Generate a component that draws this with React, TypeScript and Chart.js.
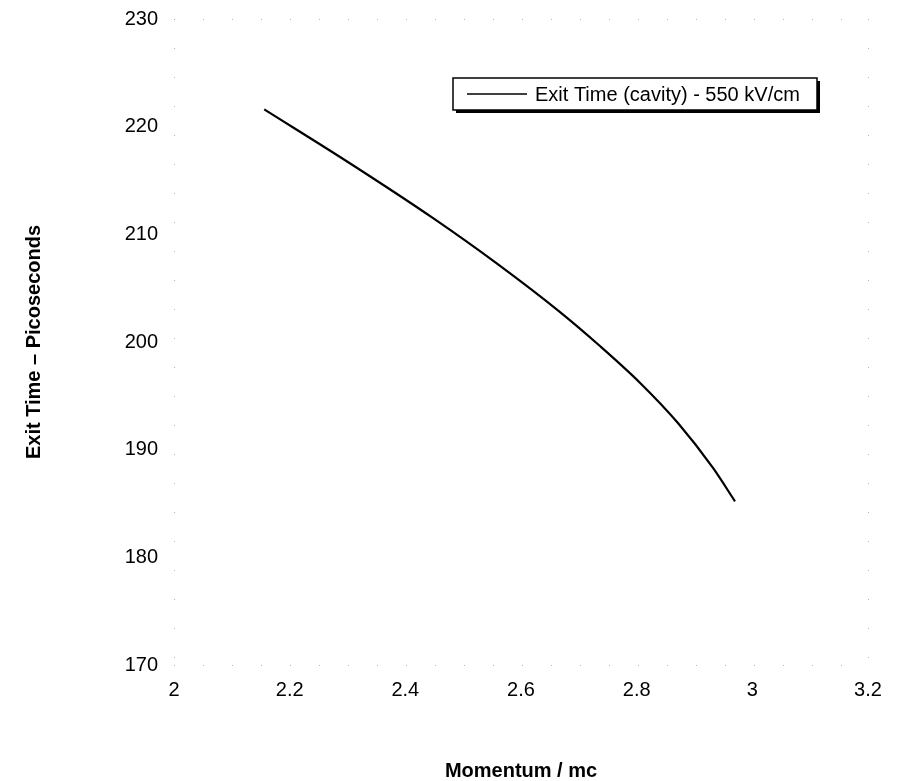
import React, { useEffect, useRef } from "react";
import { Chart, registerables } from "chart.js";

Chart.register(...registerables);

const momentum = [2.156, 2.304, 2.448, 2.558, 2.667, 2.736, 2.806, 2.871, 2.932, 2.970];
const exitTime = [221.6, 216.6, 211.5, 207.3, 202.8, 199.65, 196.2, 192.5, 188.3, 185.2];
const seriesLabel = "Exit Time (cavity) - 550 kV/cm";
const xTitle = "Momentum / mc";
const yTitle = "Exit Time \u2013 Picoseconds";
const xTicks = [2, 2.2, 2.4, 2.6, 2.8, 3, 3.2];
const yTicks = [170, 180, 190, 200, 210, 220, 230];

const FONT = "'Liberation Sans', Arial, Helvetica, sans-serif";

const boxLegend = {
  id: "boxLegend",
  afterDraw(chart: any) {
    const ctx = chart.ctx;
    const area = chart.chartArea;
    const x = area.left + 279;
    const y = area.top + 59;
    const w = 364;
    const h = 32;
    ctx.save();
    ctx.fillStyle = "#000";
    ctx.fillRect(x + 3, y + 3, w, h);
    ctx.fillStyle = "#fff";
    ctx.fillRect(x, y, w, h);
    ctx.strokeStyle = "#000";
    ctx.lineWidth = 1.5;
    ctx.strokeRect(x, y, w, h);
    ctx.beginPath();
    ctx.lineWidth = 1.5;
    ctx.moveTo(x + 14, y + h / 2);
    ctx.lineTo(x + 74, y + h / 2);
    ctx.stroke();
    ctx.fillStyle = "#000";
    ctx.font = "20px " + FONT;
    ctx.textBaseline = "middle";
    ctx.textAlign = "left";
    ctx.fillText(chart.data.datasets[0].label, x + 82, y + h / 2 + 1);
    ctx.restore();
  },
};

export default function App() {
  const ref = useRef<HTMLCanvasElement | null>(null);
  useEffect(() => {
    if (!ref.current) return;
    const edgeGrid = (c: any) => {
      const n = c.scale.ticks.length;
      return c.index === 0 || c.index === n - 1 ? "rgba(150,150,150,0.7)" : "rgba(0,0,0,0)";
    };
    const chart = new Chart(ref.current, {
      type: "line",
      data: {
        datasets: [
          {
            label: seriesLabel,
            data: momentum.map((m, i) => ({ x: m, y: exitTime[i] })),
            borderColor: "#000",
            borderWidth: 2.2,
            pointRadius: 0,
            fill: false,
            cubicInterpolationMode: "monotone",
          },
        ],
      },
      options: {
        animation: false,
        responsive: false,
        layout: { padding: { top: 19, right: 34, bottom: 0, left: 0 } },
        plugins: { legend: { display: false }, tooltip: { enabled: false } },
        scales: {
          x: {
            type: "linear",
            min: 2,
            max: 3.2,
            afterBuildTicks: (s: any) => {
              s.ticks = xTicks.map((v) => ({ value: v }));
            },
            afterFit: (s: any) => {
              s.height = 116;
              s.paddingLeft = 0;
              s.paddingRight = 0;
            },
            ticks: {
              color: "#000",
              font: { family: FONT, size: 20 },
              padding: 13,
              maxRotation: 0,
              callback: (v: any) => String(v),
            },
            grid: { color: edgeGrid, drawTicks: false, lineWidth: 1 },
            border: { display: false, dash: [1, 28] },
            title: {
              display: true,
              text: xTitle,
              color: "#000",
              font: { family: FONT, size: 20, weight: "bold", lineHeight: 1 },
              padding: { top: 0, bottom: 0 },
            },
          },
          y: {
            type: "linear",
            min: 170,
            max: 230,
            afterBuildTicks: (s: any) => {
              s.ticks = yTicks.map((v) => ({ value: v }));
            },
            afterFit: (s: any) => {
              s.width = 174;
              s.paddingTop = 0;
              s.paddingBottom = 0;
            },
            ticks: {
              color: "#000",
              font: { family: FONT, size: 20 },
              padding: 16,
              callback: (v: any) => String(v),
            },
            grid: { color: edgeGrid, drawTicks: false, lineWidth: 1 },
            border: { display: false, dash: [1, 28] },
            title: {
              display: true,
              text: yTitle,
              color: "#000",
              font: { family: FONT, size: 20, weight: "bold", lineHeight: 1.2 },
              padding: { top: 22, bottom: 0 },
            },
          },
        },
      },
      plugins: [boxLegend],
    } as any);
    return () => chart.destroy();
  }, []);
  return (
    <div style={{ position: "absolute", left: 0, top: 0, width: 902, height: 781, background: "#fff" }}>
      <canvas ref={ref} width={902} height={781} style={{ display: "block" }} />
    </div>
  );
}
